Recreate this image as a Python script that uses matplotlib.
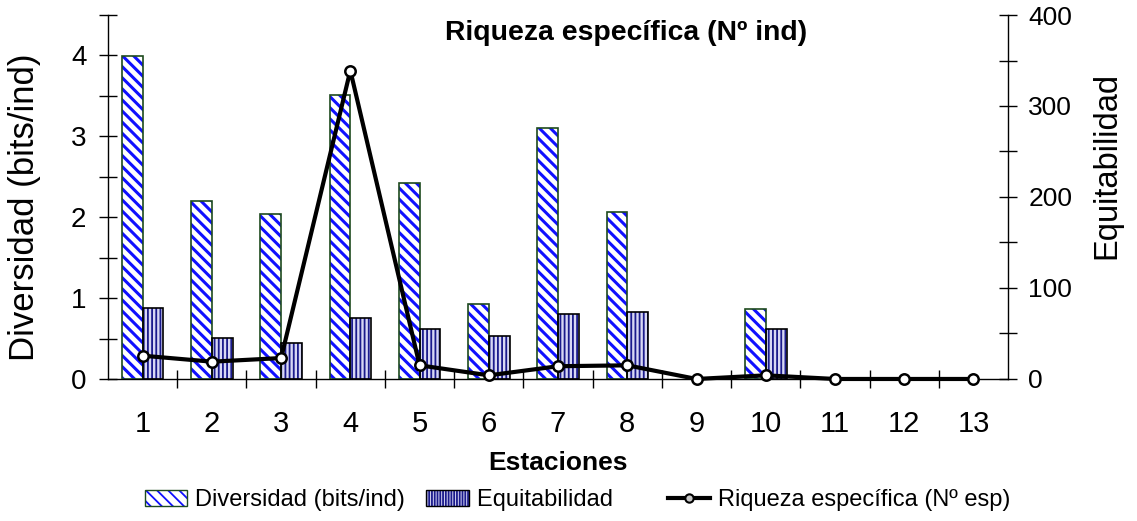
import matplotlib
matplotlib.use("Agg")
import matplotlib.pyplot as plt
import numpy as np
from matplotlib.patches import Patch
from matplotlib.lines import Line2D
from matplotlib.ticker import MultipleLocator, FixedLocator, NullFormatter

plt.rcParams['font.family'] = ['Liberation Sans', 'DejaVu Sans']

estaciones = ['1', '2', '3', '4', '5', '6', '7', '8', '9', '10', '11', '12', '13']
diversidad = [3.99, 2.20, 2.04, 3.51, 2.42, 0.93, 3.10, 2.07, 0.0, 0.87, 0.0, 0.0, 0.0]
equitabilidad = [0.877, 0.506, 0.444, 0.75, 0.62, 0.53, 0.80, 0.83, 0.0, 0.62, 0.0, 0.0, 0.0]
riqueza = [25.6, 19, 23, 339, 15, 4, 14, 15, 0, 4, 0, 0, 0]

x = np.arange(1, len(estaciones) + 1)
width = 0.30

fig = plt.figure(figsize=(11.37, 5.21), dpi=100)
ax = fig.add_axes([0.095, 0.2726, 0.7916, 0.6986])
ax2 = ax.twinx()

def hatched_bars(axis, xs, vals, w, face, hatch, hatch_color, hatch_lw, edge, edge_lw):
    plt.rcParams['hatch.linewidth'] = hatch_lw
    bars = axis.bar(xs, vals, w, align='edge', color=face, hatch=hatch,
                    edgecolor=hatch_color, linewidth=0, zorder=2)
    for b in bars:
        try:
            b.set_hatch_linewidth(hatch_lw)
        except AttributeError:
            pass
    axis.bar(xs, vals, w, align='edge', fill=False, edgecolor=edge,
             linewidth=edge_lw, zorder=3)
    return bars

# only stations with a value get a bar
mask_d = np.array(diversidad) > 0
mask_e = np.array(equitabilidad) > 0
hatched_bars(ax, x[mask_d], np.array(diversidad)[mask_d], -width, 'white', '\\\\\\',
             '#1010ff', 2.2, '#1e4a1e', 1.2)
hatched_bars(ax, x[mask_e], np.array(equitabilidad)[mask_e], width, '#d8d8f4', '||||',
             '#1a1a8c', 1.3, 'black', 1.2)

ax2.plot(x, riqueza, color='black', lw=3.0, marker='o', markersize=7.5,
         markerfacecolor='white', markeredgecolor='black', markeredgewidth=1.8,
         zorder=5, clip_on=False)

ax.set_xlim(0.5, 13.5)
ax.set_ylim(0, 4.5)
ax2.set_ylim(0, 400)

for a in (ax, ax2):
    a.spines['top'].set_visible(False)
    a.set_facecolor('none')
ax.spines['right'].set_visible(False)
for s in ('left', 'bottom'):
    ax.spines[s].set_linewidth(1.0)
ax2.spines['right'].set_linewidth(1.0)
ax2.spines['left'].set_visible(False)
ax2.spines['bottom'].set_visible(False)

# left axis
ax.yaxis.set_major_locator(FixedLocator([0, 1, 2, 3, 4]))
ax.yaxis.set_minor_locator(FixedLocator([0.5, 1.5, 2.5, 3.5, 4.5]))
ax.tick_params(axis='y', which='both', direction='inout', length=13, width=1.0,
               labelsize=20, pad=9)

# right axis
ax2.yaxis.set_major_locator(MultipleLocator(100))
ax2.yaxis.set_minor_locator(MultipleLocator(50))
ax2.tick_params(axis='y', which='both', direction='inout', length=13, width=1.0,
                labelsize=19, pad=8)

# x axis: boundary ticks, labels centred on stations
ax.xaxis.set_major_locator(FixedLocator(np.arange(1.5, 13.5, 1.0)))
ax.xaxis.set_major_formatter(NullFormatter())
ax.xaxis.set_minor_locator(FixedLocator(x))
ax.set_xticklabels(estaciones, minor=True)
ax.tick_params(axis='x', which='major', direction='inout', length=13, width=1.0)
ax.tick_params(axis='x', which='minor', length=0, labelsize=21, pad=22)

ax.set_ylabel('Diversidad (bits/ind)', fontsize=25, va='center')
ax.yaxis.set_label_coords(-0.093, 0.473)
ax2.set_ylabel('Equitabilidad', fontsize=23.5, va='center')
ax2.yaxis.set_label_coords(1.11, 0.588)
ax.set_xlabel('Estaciones', fontsize=19, fontweight='bold', va='center')
ax.xaxis.set_label_coords(0.5, -0.231)

ax.text(0.5756, 0.9505, 'Riqueza específica (Nº ind)', transform=ax.transAxes,
        ha='center', va='center', fontsize=20.4, fontweight='bold')

# legend keys: hatched fill with an outline drawn on top
plt.rcParams['hatch.linewidth'] = 2.2
h1_fill = Patch(facecolor='white', edgecolor='#1010ff', hatch='\\\\\\', linewidth=0)
h1_edge = Patch(fill=False, edgecolor='#1e4a1e', linewidth=1.0)
plt.rcParams['hatch.linewidth'] = 1.3
h2_fill = Patch(facecolor='#d8d8f4', edgecolor='#1a1a8c', hatch='||||||', linewidth=0)
h2_edge = Patch(fill=False, edgecolor='black', linewidth=1.0)
h3 = Line2D([], [], color='black', lw=3.0, marker='o', markersize=6,
            markerfacecolor='#c8c8c8', markeredgecolor='black', markeredgewidth=1.5)
fig.legend([(h1_fill, h1_edge), (h2_fill, h2_edge), h3],
           ['Diversidad (bits/ind)', 'Equitabilidad     ', 'Riqueza específica (Nº esp)'],
           loc='center', bbox_to_anchor=(0.508, 0.04), ncol=3, frameon=False,
           fontsize=17, handlelength=1.8, handletextpad=0.35, columnspacing=0.9)

fig.savefig('out.png', dpi=100)
